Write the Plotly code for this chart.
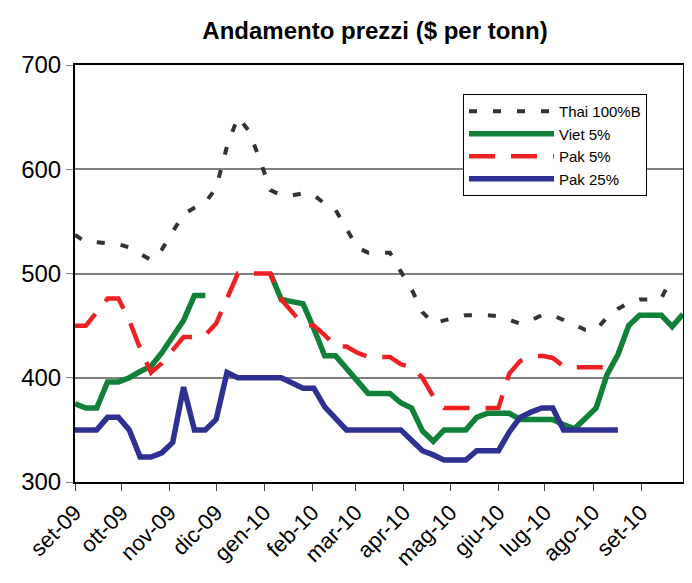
import pandas as pd
import plotly.graph_objects as go

# weekly observation dates (Sep 2009 - Sep 2010)
dates = pd.date_range("2009-09-01", periods=57, freq="7D")

month_ticks = ["2009-09-01", "2009-10-01", "2009-11-01", "2009-12-01", "2010-01-01",
               "2010-02-01", "2010-03-01", "2010-04-01", "2010-05-01", "2010-06-01",
               "2010-07-01", "2010-08-01", "2010-09-01"]
month_labels = ["set-09", "ott-09", "nov-09", "dic-09", "gen-10", "feb-10", "mar-10",
                "apr-10", "mag-10", "giu-10", "lug-10", "ago-10", "set-10"]

N = None
thai_100b = [537, 530, 530, 529, 528, 525, 519, 513, 523, 540, 557, 563, 568, 582, 622,
             650, 637, 610, 580, 575, 575, 577, 575, 567, 561, 543, 525, 520, 520, 520,
             502, 485, 463, 452, 455, 458, 460, 460, 460, 459, 455, 452, 455, 460, 460,
             455, 450, 446, 446, 458, 466, 472, 475, 475, 476, 497, N]
viet_5 = [375, 371, 371, 396, 396, 400, 406, 411, 424, 439, 455, 479, 479, N, N,
          N, N, N, 500, 475, 473, 471, 447, 421, 421, 409, 397, 385, 385, 385,
          376, 371, 349, 339, 350, 350, 350, 362, 366, 366, 366, 360, 360, 360, 360,
          355, 351, 361, 371, 403, 422, 450, 460, 460, 460, 449, 461]
pak_5 = [450, 450, 463, 476, 476, 455, 428, 405, 414, 427, 439, 439, 441, 452, 476,
         500, 500, 500, 500, 475, 463, 451, 450, 441, 430, 430, 424, 420, 420, 420,
         413, 410, 400, 382, 371, 371, 371, 371, 371, 371, 404, 416, 420, 421, 419,
         411, 410, 410, 410, 410, 410, N, N, N, N, N, N]
pak_25 = [350, 350, 350, 362, 362, 350, 324, 324, 328, 338, 391, 350, 350, 360, 405,
          400, 400, 400, 400, 400, 395, 390, 390, 372, 361, 350, 350, 350, 350, 350,
          350, 340, 330, 326, 321, 321, 321, 330, 330, 330, 348, 362, 367, 371, 371,
          350, 350, 350, 350, 350, 350, N, N, N, N, N, N]

FONT = "Liberation Sans, Arial, sans-serif"

fig = go.Figure()
fig.add_trace(go.Scatter(x=dates, y=thai_100b, name="Thai 100%B", mode="lines",
                         legendgroup="a",
                         line=dict(color="#333333", width=4, dash="8px,16px")))
fig.add_trace(go.Scatter(x=dates, y=viet_5, name="Viet 5%", mode="lines",
                         legendgroup="b",
                         line=dict(color="#118038", width=5.5)))
fig.add_trace(go.Scatter(x=dates, y=pak_5, name="Pak 5%", mode="lines",
                         legendgroup="c",
                         line=dict(color="#ee2024", width=4.5, dash="26px,16px")))
fig.add_trace(go.Scatter(x=dates, y=pak_25, name="Pak 25%", mode="lines",
                         legendgroup="d",
                         line=dict(color="#2e3192", width=5.5)))

# page has an 8px body margin: figure occupies 684x575 starting at (8, 8)
OFF = 8
W, H = 684, 575
L, R, T, B = 67, 9, 57, 101
pw, ph = W - L - R, H - T - B
px0, py_bottom = OFF + L, OFF + T + ph  # screen coords of plot left / bottom

fig.update_layout(
    width=W, height=H,
    margin=dict(l=L, r=R, t=T, b=B, autoexpand=False),
    paper_bgcolor="white", plot_bgcolor="white",
    font=dict(family=FONT, color="black"),
    title=dict(text="<b>Andamento prezzi ($ per tonn)</b>", x=(375 - OFF) / W,
               xanchor="center", y=1 - (31 - OFF) / H, yanchor="middle", yref="container",
               font=dict(size=24, family=FONT, color="black")),
    showlegend=True,
    legend=dict(x=(463 - px0) / pw, y=(py_bottom - 94) / ph, xanchor="left", yanchor="top",
                bgcolor="white", bordercolor="black", borderwidth=1,
                font=dict(size=15, family=FONT), tracegroupgap=0, itemwidth=85,
                traceorder="normal"),
    xaxis=dict(type="date", range=["2009-09-01", "2010-09-28"],
               tickvals=month_ticks, ticktext=month_labels, tickangle=-45,
               tickfont=dict(size=22, family=FONT), ticks="outside", ticklen=7,
               tickcolor="#444444", showgrid=False, showline=True, linecolor="black",
               linewidth=2, mirror=True, zeroline=False, automargin=False),
    yaxis=dict(range=[300, 700], dtick=100, tick0=300, tickfont=dict(size=24, family=FONT),
               ticks="outside", ticklen=7, tickcolor="#808080", showgrid=True,
               gridcolor="#808080", gridwidth=1.5, showline=True, linecolor="black",
               linewidth=2, mirror=True, zeroline=False, automargin=False),
)

fig.write_html("out.html")
